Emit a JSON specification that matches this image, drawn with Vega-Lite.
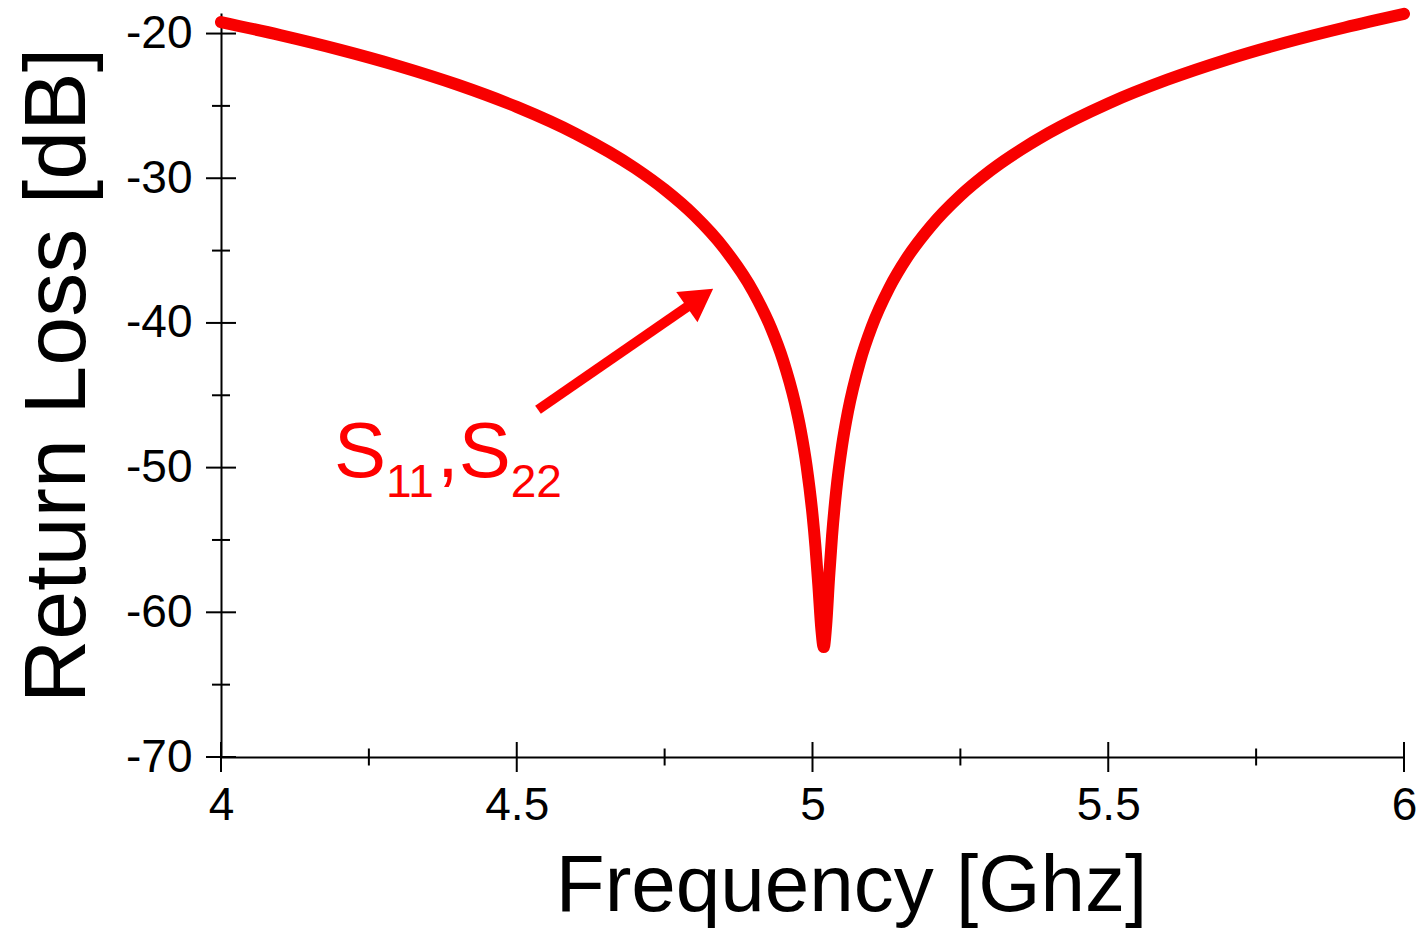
{
  "$schema": "https://vega.github.io/schema/vega-lite/v6.json",
  "width": 1183,
  "height": 744,
  "autosize": {"type": "none"},
  "padding": {"left": 221, "top": 13, "right": 14, "bottom": 174},
  "background": "white",
  "config": {"view": {"stroke": null}, "font": "Liberation Sans"},
  "datasets": {
    "curve": [
      {"freq": 4.0, "rl": -19.21},
      {"freq": 4.1, "rl": -20.11},
      {"freq": 4.2, "rl": -21.11},
      {"freq": 4.3, "rl": -22.24},
      {"freq": 4.4, "rl": -23.54},
      {"freq": 4.5, "rl": -25.07},
      {"freq": 4.6, "rl": -26.93},
      {"freq": 4.7, "rl": -29.3},
      {"freq": 4.75, "rl": -30.78},
      {"freq": 4.8, "rl": -32.56},
      {"freq": 4.85, "rl": -34.81},
      {"freq": 4.9, "rl": -37.85},
      {"freq": 4.93, "rl": -40.36},
      {"freq": 4.95, "rl": -42.55},
      {"freq": 4.97, "rl": -45.48},
      {"freq": 4.98, "rl": -47.41},
      {"freq": 4.99, "rl": -49.88},
      {"freq": 5.0, "rl": -53.24},
      {"freq": 5.005, "rl": -55.47},
      {"freq": 5.01, "rl": -58.21},
      {"freq": 5.015, "rl": -61.19},
      {"freq": 5.019, "rl": -62.4},
      {"freq": 5.023, "rl": -60.96},
      {"freq": 5.028, "rl": -57.63},
      {"freq": 5.033, "rl": -54.74},
      {"freq": 5.04, "rl": -51.65},
      {"freq": 5.05, "rl": -48.47},
      {"freq": 5.06, "rl": -46.12},
      {"freq": 5.08, "rl": -42.72},
      {"freq": 5.1, "rl": -40.28},
      {"freq": 5.13, "rl": -37.56},
      {"freq": 5.16, "rl": -35.48},
      {"freq": 5.2, "rl": -33.32},
      {"freq": 5.25, "rl": -31.2},
      {"freq": 5.3, "rl": -29.5},
      {"freq": 5.4, "rl": -26.86},
      {"freq": 5.5, "rl": -24.83},
      {"freq": 5.6, "rl": -23.19},
      {"freq": 5.7, "rl": -21.81},
      {"freq": 5.8, "rl": -20.62},
      {"freq": 5.9, "rl": -19.58},
      {"freq": 6.0, "rl": -18.64}
    ],
    "yticks": [
      {"v": -20, "kind": "major"}, {"v": -30, "kind": "major"}, {"v": -40, "kind": "major"},
      {"v": -50, "kind": "major"}, {"v": -60, "kind": "major"}, {"v": -70, "kind": "major"},
      {"v": -25, "kind": "minor"}, {"v": -35, "kind": "minor"}, {"v": -45, "kind": "minor"},
      {"v": -55, "kind": "minor"}, {"v": -65, "kind": "minor"}
    ],
    "xticks": [
      {"v": 4, "kind": "major"}, {"v": 4.5, "kind": "major"}, {"v": 5, "kind": "major"},
      {"v": 5.5, "kind": "major"}, {"v": 6, "kind": "major"},
      {"v": 4.25, "kind": "minor"}, {"v": 4.75, "kind": "minor"}, {"v": 5.25, "kind": "minor"},
      {"v": 5.75, "kind": "minor"}
    ],
    "labelBig": [
      {"t": "S", "fx": 4.191, "fy": -50.63},
      {"t": ",", "fx": 4.3652, "fy": -50.63},
      {"t": "S", "fx": 4.4019, "fy": -50.63}
    ],
    "labelSub": [
      {"t": "11", "fx": 4.279, "fy": -52.01},
      {"t": "22", "fx": 4.4898, "fy": -52.01}
    ],
    "arrow": [
      {"x1": 4.5359, "y1": -46.0, "x2": 4.7929, "y2": -38.75}
    ]
  },
  "layer": [
    {
      "data": {"name": "curve"},
      "mark": {"type": "line", "color": "#f80000", "strokeWidth": 12, "interpolate": "monotone", "strokeCap": "round", "strokeJoin": "round"},
      "encoding": {
        "x": {
          "field": "freq", "type": "quantitative",
          "scale": {"domain": [4, 6], "nice": false, "zero": false},
          "axis": {
            "values": [4, 4.5, 5, 5.5, 6],
            "labelExpr": "'' + datum.value",
            "labelFontSize": 46, "labelColor": "black", "labelPadding": 26, "labelFlush": false,
            "ticks": false, "tickSize": 0, "grid": false,
            "domain": true, "domainColor": "black", "domainWidth": 2,
            "title": "Frequency [Ghz]", "titleFontSize": 80, "titleFontWeight": "normal", "titleColor": "black",
            "titleX": 630, "titleY": 153, "titleAlign": "center", "titleBaseline": "alphabetic"
          }
        },
        "y": {
          "field": "rl", "type": "quantitative",
          "scale": {"domain": [-70, -18.58], "nice": false, "zero": false},
          "axis": {
            "values": [-20, -30, -40, -50, -60, -70],
            "labelExpr": "'' + datum.value",
            "labelFontSize": 46, "labelColor": "black", "labelPadding": 29, "labelFlush": false,
            "ticks": false, "tickSize": 0, "grid": false,
            "domain": true, "domainColor": "black", "domainWidth": 2,
            "title": "Return Loss [dB]", "titleFontSize": 88, "titleFontWeight": "normal", "titleColor": "black",
            "titleAngle": -90, "titleX": -137, "titleY": 362, "titleAlign": "center", "titleBaseline": "alphabetic"
          }
        }
      }
    },
    {
      "data": {"name": "yticks"},
      "transform": [{"filter": "datum.kind === 'major'"}],
      "mark": {"type": "tick", "orient": "horizontal", "size": 30, "thickness": 2, "color": "black", "opacity": 1},
      "encoding": {
        "x": {"datum": 4, "type": "quantitative"},
        "y": {"field": "v", "type": "quantitative"}
      }
    },
    {
      "data": {"name": "yticks"},
      "transform": [{"filter": "datum.kind === 'minor'"}],
      "mark": {"type": "tick", "orient": "horizontal", "size": 18, "thickness": 2, "color": "black", "opacity": 1},
      "encoding": {
        "x": {"datum": 4, "type": "quantitative"},
        "y": {"field": "v", "type": "quantitative"}
      }
    },
    {
      "data": {"name": "xticks"},
      "transform": [{"filter": "datum.kind === 'major'"}],
      "mark": {"type": "tick", "orient": "vertical", "size": 30, "thickness": 2, "color": "black", "opacity": 1},
      "encoding": {
        "x": {"field": "v", "type": "quantitative"},
        "y": {"datum": -70, "type": "quantitative"}
      }
    },
    {
      "data": {"name": "xticks"},
      "transform": [{"filter": "datum.kind === 'minor'"}],
      "mark": {"type": "tick", "orient": "vertical", "size": 17, "thickness": 2, "color": "black", "opacity": 1},
      "encoding": {
        "x": {"field": "v", "type": "quantitative"},
        "y": {"datum": -70, "type": "quantitative"}
      }
    },
    {
      "data": {"name": "arrow"},
      "mark": {"type": "rule", "color": "#ff0000", "strokeWidth": 10, "strokeCap": "butt"},
      "encoding": {
        "x": {"field": "x1", "type": "quantitative"},
        "y": {"field": "y1", "type": "quantitative"},
        "x2": {"field": "x2"},
        "y2": {"field": "y2"}
      }
    },
    {
      "data": {"name": "arrow"},
      "mark": {"type": "point", "shape": "triangle-up", "filled": true, "color": "#ff0000", "opacity": 1, "size": 1369, "angle": 55},
      "encoding": {
        "x": {"datum": 4.8098, "type": "quantitative"},
        "y": {"datum": -38.27, "type": "quantitative"}
      }
    },
    {
      "data": {"name": "labelBig"},
      "mark": {"type": "text", "fontSize": 78, "color": "#ff0000", "align": "left", "baseline": "alphabetic"},
      "encoding": {
        "x": {"field": "fx", "type": "quantitative"},
        "y": {"field": "fy", "type": "quantitative"},
        "text": {"field": "t"}
      }
    },
    {
      "data": {"name": "labelSub"},
      "mark": {"type": "text", "fontSize": 46, "color": "#ff0000", "align": "left", "baseline": "alphabetic"},
      "encoding": {
        "x": {"field": "fx", "type": "quantitative"},
        "y": {"field": "fy", "type": "quantitative"},
        "text": {"field": "t"}
      }
    }
  ]
}
